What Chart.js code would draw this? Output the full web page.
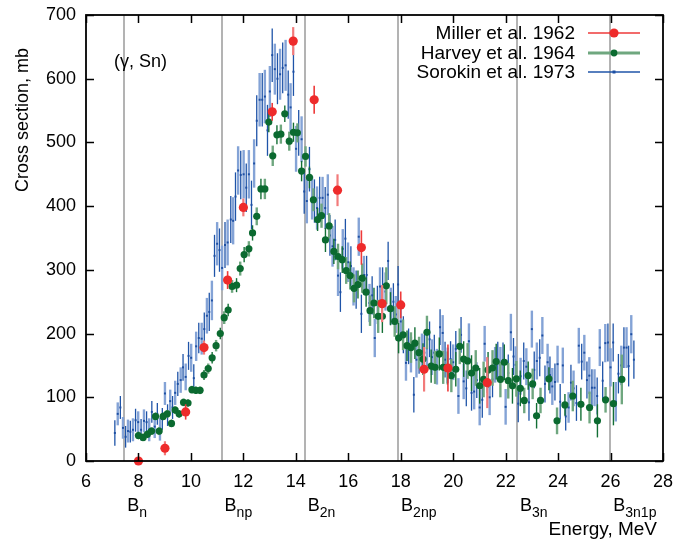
<!DOCTYPE html>
<html><head><meta charset="utf-8">
<script src="https://cdn.jsdelivr.net/npm/chart.js@4.4.1/dist/chart.umd.min.js"></script>
<style>html,body{margin:0;padding:0;background:#fff}#wrap{width:692px;height:539px}</style>
</head><body><div id="wrap"><canvas id="c" width="692" height="539"></canvas></div>
<script>
// ---- data ----
const millerE   = [8.00, 9.01, 9.80, 10.50, 11.40, 12.00, 13.10, 13.90, 14.70, 15.59, 16.50, 17.29, 18.00, 18.89, 19.80, 21.30];
const millerS   = [0, 20, 77, 178, 284, 398, 548, 659, 567, 425, 335, 247, 245, 144, 146, 123];
const millerErr = [6, 11, 12, 11, 14, 14, 14, 22, 22, 25, 27, 29, 21, 35, 37, 40];

const harveyE = [8.00, 8.18, 8.34, 8.50, 8.65, 8.79, 8.94, 9.10, 9.26, 9.40, 9.55, 9.72, 9.89, 10.04, 10.19, 10.35,
  10.50, 10.66, 10.81, 10.96, 11.12, 11.27, 11.42, 11.57, 11.74, 11.88,
  12.03, 12.21, 12.35, 12.51, 12.67, 12.82, 12.97, 13.12, 13.28, 13.43, 13.58, 13.75, 13.91, 14.06, 14.22, 14.37, 14.52,
  14.67, 14.83, 14.98, 15.13, 15.27, 15.45, 15.61, 15.77, 15.92, 16.07, 16.22, 16.37, 16.53, 16.68, 16.83, 16.98,
  17.14, 17.30, 17.45, 17.61, 17.77, 17.92, 18.09, 18.24, 18.39, 18.54, 18.70, 18.85, 19.00, 19.16, 19.31, 19.47, 19.62, 19.78,
  19.93, 20.10, 20.25, 20.40, 20.55, 20.70, 20.86, 21.01, 21.16, 21.33, 21.50, 21.64, 21.80, 21.95, 22.10, 22.26, 22.41, 22.56,
  22.71, 22.86, 23.03, 23.18, 23.33, 23.65, 23.96, 24.26, 24.56, 24.87, 25.20, 25.50, 25.81, 26.11, 26.43];
const harveyS = [40, 37, 42, 47, 70, 47, 70, 74, 59, 80, 74, 92, 91, 112, 111, 111,
  135, 145, 162, 181, 200, 225, 237, 274, 276, 302,
  324, 333, 358, 384, 427, 427, 532, 479, 512, 513, 545, 502, 516, 515, 455, 478, 445,
  410, 379, 385, 347, 369, 329, 321, 316, 299, 291, 271, 277, 287, 265, 236, 248,
  227, 227, 275, 239, 219, 193, 198, 181, 178, 185, 170, 160, 202, 149, 147, 168, 147, 146,
  134, 144, 180, 160, 157, 138, 146, 118, 128, 143, 146, 156, 128, 155, 126, 118, 129, 114,
  95, 134, 121, 71, 95, 129, 63, 88, 102, 89, 84, 63, 96, 90, 128];
const harveyErr = [6, 6, 6, 6, 6, 6, 6, 6, 6, 6, 6, 6, 6, 6, 6, 6,
  8, 8, 9, 9, 9, 10, 10, 10, 11, 11,
  12, 12, 12, 14, 16, 16, 16, 16, 15, 15, 13, 15, 15, 15, 16, 16, 17,
  18, 18, 19, 19, 20, 20, 20, 21, 21, 22, 22, 22, 23, 23, 24, 24,
  26, 26, 29, 26, 24, 24, 24, 24, 24, 25, 25, 25, 26, 26, 26, 26, 26, 26,
  26, 27, 28, 28, 28, 28, 28, 28, 28, 28, 28, 28, 28, 28, 28, 28, 28, 28,
  20, 22, 24, 20, 20, 18, 21, 17, 24, 26, 25, 26, 20, 34, 39];

const sorokinE = [7.10, 7.21, 7.31, 7.41, 7.51, 7.60, 7.69, 7.79, 7.89, 7.99,
  8.10, 8.21, 8.31, 8.41, 8.51, 8.62, 8.72, 8.82, 8.91, 9.01,
  9.11, 9.21, 9.30, 9.40, 9.50, 9.61, 9.70, 9.80, 9.91, 10.01,
  10.11, 10.20, 10.30, 10.41, 10.51, 10.61, 10.70, 10.80, 10.90, 11.00,
  11.09, 11.19, 11.30, 11.40, 11.52, 11.61, 11.70, 11.80, 11.90, 12.01,
  12.11, 12.21, 12.31, 12.41, 12.51, 12.62, 12.72, 12.82, 12.92, 13.01,
  13.10, 13.20, 13.30, 13.40, 13.50, 13.61, 13.71, 13.80, 13.91, 14.01,
  14.11, 14.22, 14.32, 14.42, 14.52, 14.62, 14.71, 14.81, 14.91, 15.02,
  15.12, 15.22, 15.30, 15.40, 15.50, 15.61, 15.70, 15.79, 15.89, 15.99,
  16.10, 16.20, 16.30, 16.40, 16.50, 16.60, 16.70, 16.81, 16.91, 17.01,
  17.11, 17.21, 17.31, 17.42, 17.52, 17.62, 17.72, 17.81, 17.90, 18.00,
  18.10, 18.20, 18.30, 18.39, 18.50, 18.60, 18.70, 18.81, 18.90, 19.00,
  19.10, 19.19, 19.28, 19.38, 19.50, 19.60, 19.69, 19.79, 19.90, 20.00,
  20.10, 20.20, 20.30, 20.40, 20.50, 20.60, 20.70, 20.80, 20.90, 21.01,
  21.11, 21.20, 21.30, 21.39, 21.50, 21.60, 21.70, 21.80, 21.90, 22.00,
  22.10, 22.20, 22.30, 22.38, 22.48, 22.57, 22.69, 22.79, 22.89, 23.00,
  23.09, 23.19, 23.30, 23.40, 23.50, 23.60, 23.69, 23.78, 23.88, 23.98,
  24.08, 24.18, 24.29, 24.40, 24.49, 24.59, 24.70, 24.79, 24.90, 25.00,
  25.10, 25.19, 25.29, 25.39, 25.49, 25.59, 25.70, 25.80, 25.90, 26.00,
  26.10, 26.20, 26.30, 26.41, 26.51, 26.61, 26.69, 26.79, 26.89];
const sorokinS = [44, 74, 84, 52, 38, 47, 46, 49, 64, 61,
  49, 63, 61, 49, 77, 54, 74, 50, 66, 106,
  72, 94, 84, 107, 121, 127, 147, 132, 165, 162,
  130, 180, 193, 192, 207, 228, 234, 252, 322, 341,
  331, 303, 339, 343, 379, 377, 415, 456, 449, 450,
  429, 450, 402, 467, 534, 567, 567, 572, 519, 580,
  637, 615, 600, 607, 617, 621, 575, 555, 611, 490,
  515, 505, 423, 408, 458, 413, 408, 397, 413, 413,
  397, 418, 354, 337, 347, 291, 265, 333, 349, 312,
  306, 274, 269, 352, 231, 292, 292, 248, 260, 193,
  245, 274, 274, 266, 314, 243, 250, 230, 277, 219,
  198, 154, 180, 167, 104, 159, 165, 172, 170, 177,
  191, 163, 170, 148, 210, 201, 159, 150, 160, 155,
  176, 102, 198, 125, 114, 188, 107, 109, 127, 84,
  96, 184, 135, 100, 128, 151, 159, 151, 158, 85,
  138, 202, 164, 151, 90, 133, 157, 148, 92, 207,
  143, 157, 162, 197, 121, 155, 135, 117, 124, 152,
  93, 150, 70, 84, 123, 114, 91, 181, 156, 170,
  127, 134, 115, 115, 102, 178, 126, 185, 186, 147,
  186, 93, 137, 150, 178, 178, 149, 199, 159];
const sorokinErr = [20, 18, 18, 17, 17, 18, 17, 18, 18, 17,
  17, 18, 17, 18, 17, 18, 17, 18, 17, 18,
  17, 18, 18, 19, 19, 20, 21, 21, 22, 22,
  22, 23, 24, 25, 26, 28, 30, 31, 33, 34,
  34, 35, 36, 36, 37, 37, 38, 38, 38, 38,
  38, 38, 38, 38, 40, 42, 42, 42, 40, 40,
  42, 40, 40, 40, 40, 40, 38, 38, 38, 36,
  36, 36, 35, 35, 35, 34, 34, 34, 33, 33,
  33, 32, 32, 32, 32, 32, 31, 31, 31, 31,
  31, 30, 30, 30, 30, 30, 30, 30, 30, 30,
  30, 30, 30, 30, 30, 29, 29, 29, 29, 29,
  29, 28, 28, 28, 28, 28, 28, 28, 28, 28,
  28, 28, 28, 28, 28, 28, 28, 28, 28, 28,
  28, 28, 28, 28, 28, 28, 28, 28, 28, 28,
  28, 28, 28, 28, 28, 28, 28, 28, 28, 28,
  29, 29, 29, 29, 29, 29, 29, 29, 29, 29,
  29, 29, 29, 29, 29, 29, 29, 29, 29, 29,
  28, 28, 22, 24, 28, 28, 28, 28, 28, 28,
  29, 29, 29, 29, 29, 29, 30, 30, 30, 30,
  30, 31, 31, 31, 32, 32, 32, 30, 30];

const xTicks = [6, 8, 10, 12, 14, 16, 18, 20, 22, 24, 26, 28];
const yTicks = [0, 100, 200, 300, 400, 500, 600, 700];
const thresholdE = [7.46, 11.17, 14.34, 17.90, 22.43, 25.99];
const thresholdSub = ['n', 'np', '2n', '2np', '3n', '3n1p'];
const legendLabels = ['Miller et al. 1962', 'Harvey et al. 1964', 'Sorokin et al. 1973'];
const reactionLabel = '(γ, Sn)';
const xTitle = 'Energy, MeV';
const yTitle = 'Cross section, mb';

// ---- styles ----
const FONT = "'Liberation Sans', Arial, Helvetica, sans-serif";
const series = [
  {E: millerE, S: millerS, D: millerErr, point: '#ee2b2b', bars: ['#ee3a3a', '#f27a7a'], widths: [1.6, 2.2], r: 4.6, style: 'circle'},
  {E: harveyE, S: harveyS, D: harveyErr, point: '#0b6a30', bars: ['#136f35', '#6fa77f'], widths: [1.4, 2.4], r: 3.6, style: 'circle'},
  {E: sorokinE, S: sorokinS, D: sorokinErr, point: '#1d4fa3', bars: ['#1f54a8', '#84a3d6'], widths: [1.3, 2.4], r: 1.4, style: 'rect'}
];

function pts(s) { return s.E.map((e, i) => ({x: e, y: s.S[i]})); }

const decor = {
  id: 'decor',
  beforeDatasetsDraw(chart) {
    const {ctx, chartArea: a, scales: {x}} = chart;
    ctx.save();
    ctx.strokeStyle = '#b3b3b3';
    ctx.lineWidth = 2;
    thresholdE.forEach(e => {
      const px = Math.round(x.getPixelForValue(e));
      ctx.beginPath(); ctx.moveTo(px, a.top); ctx.lineTo(px, a.bottom); ctx.stroke();
    });
    ctx.restore();
  },
  beforeDatasetDraw(chart, args) {
    const s = series[args.index];
    const {ctx, scales: {x, y}} = chart;
    ctx.save();
    s.E.forEach((e, i) => {
      const px = x.getPixelForValue(e);
      const y1 = y.getPixelForValue(s.S[i] - s.D[i]);
      const y2 = y.getPixelForValue(s.S[i] + s.D[i]);
      ctx.strokeStyle = s.bars[i % 2];
      ctx.lineWidth = s.widths[i % 2];
      ctx.beginPath(); ctx.moveTo(px, Math.min(y1, y.bottom + 4)); ctx.lineTo(px, y2); ctx.stroke();
    });
    ctx.restore();
  },
  afterDatasetsDraw(chart) {
    const {ctx, chartArea: a, scales: {x, y}} = chart;
    ctx.save();
    ctx.strokeStyle = '#000';
    ctx.lineWidth = 1.5;
    const tl = 8;
    ctx.beginPath();
    xTicks.forEach(v => {
      const px = Math.round(x.getPixelForValue(v)) + 0.5;
      ctx.moveTo(px, a.bottom); ctx.lineTo(px, a.bottom - tl);
      ctx.moveTo(px, a.top); ctx.lineTo(px, a.top + tl);
    });
    yTicks.forEach(v => {
      const py = Math.round(y.getPixelForValue(v)) + 0.5;
      ctx.moveTo(a.left, py); ctx.lineTo(a.left + tl, py);
      ctx.moveTo(a.right, py); ctx.lineTo(a.right - tl, py);
    });
    ctx.stroke();
    ctx.lineWidth = 1.8;
    ctx.strokeRect(a.left, a.top, a.right - a.left, a.bottom - a.top);
    ctx.restore();
  },
  afterDraw(chart) {
    const {ctx, chartArea: a, scales: {x}} = chart;
    ctx.save();
    ctx.fillStyle = '#000';
    // reaction label
    ctx.font = '18px ' + FONT;
    ctx.textAlign = 'left'; ctx.textBaseline = 'alphabetic';
    ctx.fillText(reactionLabel, 114, 67);
    // y title
    ctx.save();
    ctx.translate(28, 120); ctx.rotate(-Math.PI / 2);
    ctx.textAlign = 'center';
    ctx.fillText(yTitle, 0, 0);
    ctx.restore();
    // x title
    ctx.textAlign = 'right';
    ctx.font = '19px ' + FONT;
    ctx.fillText(xTitle, 657, 535);
    // threshold labels
    ctx.textAlign = 'left';
    thresholdE.forEach((e, i) => {
      const px = x.getPixelForValue(e) + 3;
      ctx.font = '18px ' + FONT;
      ctx.fillText('B', px, 511);
      const w = ctx.measureText('B').width;
      ctx.font = '14px ' + FONT;
      ctx.fillText(thresholdSub[i], px + w, 517);
    });
    // legend
    ctx.font = '19px ' + FONT;
    ctx.textAlign = 'right'; ctx.textBaseline = 'middle';
    const rows = [33, 53, 72];
    legendLabels.forEach((t, i) => {
      const s = series[i];
      ctx.fillStyle = '#000';
      ctx.fillText(t, 575, rows[i] + 1);
      ctx.strokeStyle = i === 1 ? '#6fa77f' : s.bars[0];
      ctx.lineWidth = i === 1 ? 3 : 1.5;
      ctx.beginPath(); ctx.moveTo(588, rows[i]); ctx.lineTo(640, rows[i]); ctx.stroke();
      ctx.fillStyle = s.point;
      if (s.style === 'rect') {
        ctx.fillRect(614 - 1.5, rows[i] - 1.5, 3, 3);
      } else {
        ctx.beginPath(); ctx.arc(614, rows[i], i === 0 ? 4.6 : 3.4, 0, Math.PI * 2); ctx.fill();
      }
    });
    ctx.restore();
  }
};

new Chart(document.getElementById('c'), {
  type: 'scatter',
  data: {
    datasets: series.map((s, i) => ({
      label: legendLabels[i],
      data: pts(s),
      pointStyle: s.style,
      pointRadius: s.r,
      pointHoverRadius: s.r,
      pointBackgroundColor: s.point,
      pointBorderColor: s.point,
      pointBorderWidth: 0,
      showLine: false,
      clip: false
    }))
  },
  options: {
    responsive: false,
    animation: false,
    devicePixelRatio: 1,
    layout: {padding: {top: 15, right: 29, left: 0, bottom: 0}},
    plugins: {legend: {display: false}, tooltip: {enabled: false}},
    scales: {
      x: {
        type: 'linear', min: 6, max: 28,
        afterBuildTicks: s => { s.ticks = xTicks.map(v => ({value: v})); },
        afterFit: s => { s.height = 78; },
        grid: {display: false}, border: {display: false},
        ticks: {color: '#000', font: {family: FONT, size: 18}, padding: 2, maxRotation: 0, autoSkip: false}
      },
      y: {
        type: 'linear', min: 0, max: 700,
        afterBuildTicks: s => { s.ticks = yTicks.map(v => ({value: v})); },
        afterFit: s => { s.width = 86; },
        grid: {display: false}, border: {display: false},
        ticks: {color: '#000', font: {family: FONT, size: 18}, padding: 2, autoSkip: false}
      }
    }
  },
  plugins: [decor]
});
</script>
</body></html>
